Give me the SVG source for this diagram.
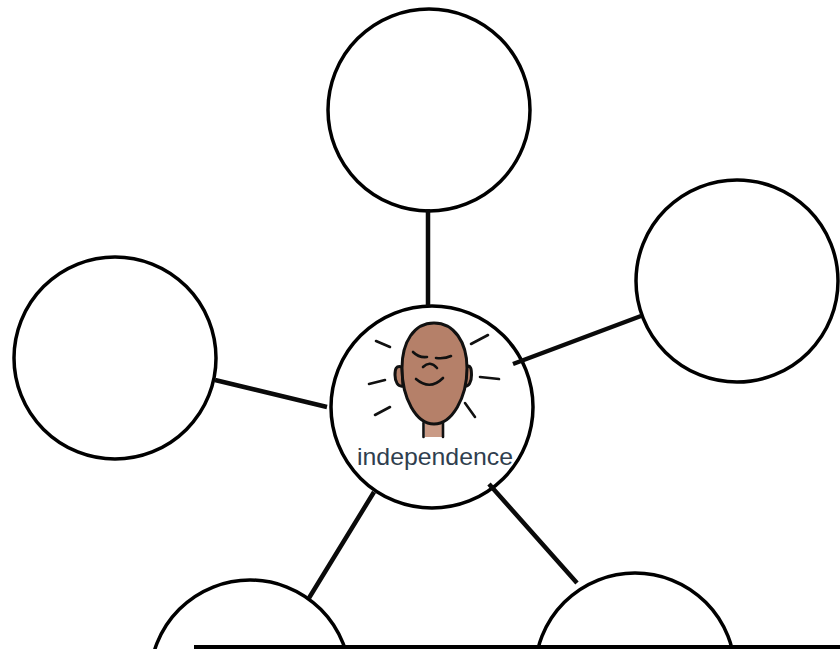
<svg xmlns="http://www.w3.org/2000/svg" width="840" height="649" viewBox="0 0 840 649">
<style>
.c{fill:#fff;stroke:#000;stroke-width:3.500}
.l{stroke:#0a0a0a;stroke-width:4.500;fill:none}
.r{stroke:#111;stroke-width:2.600;fill:none;stroke-linecap:round}
.s{fill:#b58069;stroke:#111;stroke-width:3}
.f{stroke:#111;stroke-width:2.600;fill:none;stroke-linecap:round}
</style>
<rect width="840" height="649" fill="#fff"/>
<g id="node-top"><circle class="c" cx="429" cy="110" r="101"/></g>
<g id="node-right"><circle class="c" cx="737" cy="281" r="101"/></g>
<g id="node-left"><circle class="c" cx="115" cy="358" r="101"/></g>
<g id="node-bottom-left"><circle class="c" cx="250" cy="680" r="100"/></g>
<g id="node-bottom-right"><circle class="c" cx="635" cy="673" r="100"/></g>
<g id="node-center">
<circle class="c" cx="432" cy="407" r="101"/>
<path d="M425 423V437H442V423Z" fill="#c99a85"/>
<path class="f" d="M423.500 423V437M443 423V437"/>
<path class="s" d="M402 367C396 365 395 369 395 375C395 382 398 387 403 386Z"/>
<path class="s" d="M465 367C471 364 471.500 369 471.500 375C471.500 382 469 387 464 386Z"/>
<path class="s" d="M434 323C414 323 402 342 402 368C402 398 416 424 434 424C452 424 467 398 467 368C467 342 454 323 434 323Z"/>
<path class="f" d="M413 352Q419 358 427 357M436 358Q445 359 451 356M423 367Q430 360 437 368M416 379Q430 391 443 378"/>
<path class="r" d="M376 341L390 347M471 344L488 335M369 384L385 380M480 377L499 379M375 415L390 407M465 403L475 417"/>
<text x="357" y="465" font-family="'Liberation Sans',Arial,sans-serif" font-size="24" fill="#2f3e4e" textLength="156" lengthAdjust="spacingAndGlyphs">independence</text>
</g>
<g id="connectors">
<path class="l" d="M428 209V306M513 364L641 316M215 380L327 407M374 492L309 598M489 484L577 583"/>
</g>
<rect x="194" y="645" width="646" height="4" fill="#000"/>
</svg>
